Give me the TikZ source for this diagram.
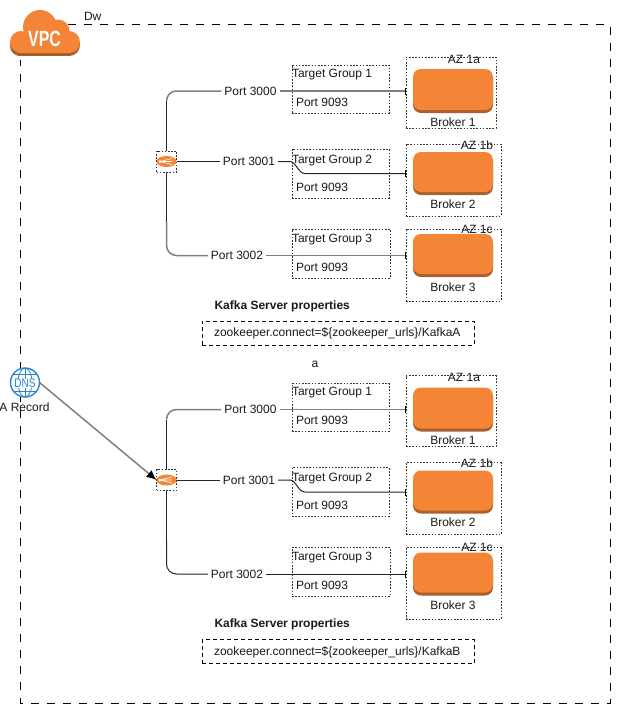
\documentclass[tikz,border=0pt]{standalone}
\usepackage{fontspec}
\setmainfont{Liberation Sans}
\usetikzlibrary{arrows.meta,calc}
\definecolor{awsorange}{HTML}{F58536}
\definecolor{awsdark}{HTML}{A8602E}
\definecolor{dnsblue}{HTML}{2A85D0}
\definecolor{txt}{HTML}{1A1A1A}
\tikzset{
  lbl/.style={font=\fontsize{12}{14}\selectfont,text=txt,inner sep=0pt,outer sep=0pt,text height=8.6pt,text depth=0pt},
  lleft/.style={lbl,anchor=west},
  portlbl/.style={lbl,fill=white,inner xsep=3pt,inner ysep=1pt},
  dotbox/.style={draw=black!80,dash pattern=on 1.6pt off 1.6pt,line width=.8pt,inner sep=0pt,outer sep=0pt},
  propbox/.style={draw=black,dash pattern=on 4pt off 3pt,line width=.8pt,inner sep=0pt,outer sep=0pt},
  outerbox/.style={draw=black,dash pattern=on 8pt off 8pt,line width=.9pt},
  wirelight/.style={draw=black!50,line width=1.5pt},
  wiredark/.style={draw=black!85,line width=1pt},
  endbar/.style={-{Bar[width=7pt,black,line width=.7pt]}},
}
% style, name, left, top, right, bottom
\newcommand{\cornerbox}[6]{\node[#1,minimum width={(#5-#3)*1pt},minimum height={(#6-#4)*1pt}] (#2) at ({(#3+#5)/2},{(#4+#6)/2}) {};}
% name, left, top, bottom
\newcommand{\brokershape}[4]{%
  \fill[awsdark,rounded corners=8pt] (#2,{#3+3}) rectangle (#2+80,#4);
  \node[fill=awsorange,rounded corners=8pt,inner sep=0pt,outer sep=0pt,minimum width=80pt,minimum height={(#4-#3-3)*1pt}] (#1) at (#2+40,{(#3+#4-3)/2}) {};
}
% suffix
\newcommand{\lbicon}[1]{%
  \node[dotbox,minimum width=20pt,minimum height=21pt] (lb#1) at (166.5,161.5) {};
  \fill[awsorange] (166.5,161.5) ellipse[x radius=10pt,y radius=5.5pt];
  \draw[white,line width=.6pt] (160,161.5) -- (172,158.5) (160,161.5) -- (172,161.5) (160,161.5) -- (172,164.5);
  \fill[white] (160,161.5) circle[radius=1.5pt];
}
% suffix, last word, style of the Port 3002 wire
\newcommand{\kafkablock}[3]{%
  \cornerbox{dotbox}{tga#1}{292}{65}{389}{113}
  \cornerbox{dotbox}{tgb#1}{292}{149}{389}{198}
  \cornerbox{dotbox}{tgc#1}{292}{229}{390}{278}
  \cornerbox{dotbox}{aza#1}{406}{57}{496}{128}
  \cornerbox{dotbox}{azb#1}{406}{144}{501}{216}
  \cornerbox{dotbox}{azc#1}{406}{229}{501}{301}
  \brokershape{bka#1}{413}{69}{113}
  \brokershape{bkb#1}{413}{152}{195}
  \brokershape{bkc#1}{413}{234}{277}
  \node[lbl] at (464,59) {AZ 1a};
  \node[lbl] at (477,145) {AZ 1b};
  \node[lbl] at (477,229) {AZ 1c};
  \node[lbl] at (453,122) {Broker 1};
  \node[lbl] at (453,204) {Broker 2};
  \node[lbl] at (453,287) {Broker 3};
  \node[lleft] at (292,73) {Target Group 1};
  \node[lleft] at (296,102) {Port 9093};
  \node[lleft] at (292,159) {Target Group 2};
  \node[lleft] at (296,187) {Port 9093};
  \node[lleft] at (292,238) {Target Group 3};
  \node[lleft] at (296,267) {Port 9093};
  \node[portlbl] (pa#1) at (250.5,91) {Port 3000};
  \node[portlbl] (pb#1) at (249,161.5) {Port 3001};
  \node[portlbl] (pc#1) at (237,255.5) {Port 3002};
  \coordinate (eb#1) at (406,173.5);
  \lbicon{#1}
  \draw[wirelight,rounded corners=10pt] (lb#1.north) ++(0,-50) |- (pa#1.west);
  \draw[wiredark] (lb#1.north) -- ++(0,-50);
  \draw[#3,rounded corners=10pt] (lb#1.south) ++(0,50) |- (pc#1.west);
  \draw[wiredark] (lb#1.south) -- ++(0,50);
  \draw[wiredark] (lb#1.east) -- (pb#1.west);
  \draw[wirelight,endbar] (pa#1.east) -- (aza#1.west |- pa#1);
  \draw[#3,endbar] (pc#1.east) -- (azc#1.west |- pc#1);
  \draw[wiredark,endbar] (pb#1.east) -- ++(12,0) .. controls +(6,0) and +(-7,0) .. ++(15,12) -- (eb#1);
  \node[lleft,font=\fontsize{12}{14}\selectfont\bfseries] at (214.5,305) {Kafka Server properties};
  \cornerbox{propbox}{prop#1}{202}{321}{474}{345}
  \node[lleft] at (214,332.5) {zookeeper.connect=\$\{zookeeper\_urls\}/#2};
}
\begin{document}
\begin{tikzpicture}[x=1pt,y=-1pt]
\useasboundingbox (0,0) rectangle (635,724);
\fill[white] (0,0) rectangle (635,724);
\draw[outerbox] (68,24.5) -| (610,703.5) -| (20.5,60);
% cloud
\begin{scope}[awsdark,yshift=-2pt]
  \fill (20,44) circle[radius=10pt];
  \fill (69,43) circle[radius=11pt];
  \fill (18,42) rectangle (70,54);
\end{scope}
\begin{scope}[awsorange]
  \fill (21,42) circle[radius=11pt];
  \fill (69,42) circle[radius=11pt];
  \fill (40,27) circle[radius=17pt];
  \fill (58,31) circle[radius=11.5pt];
  \fill (20,35) rectangle (70,53);
\end{scope}
\node[lbl,text=white,font=\fontsize{22}{24}\selectfont\bfseries,text height=15.8pt] (vpc) at (44.5,39) {\scalebox{.72}[1]{VPC}};
\node[lleft] (dw) at (84,16.5) {Dw};
% upper and lower blocks
\kafkablock{u}{KafkaA}{wirelight}
\node[lbl] (a) at (315,363.4) {a};
\begin{scope}[shift={(0,318.5)}]
\kafkablock{l}{KafkaB}{wiredark}
\end{scope}
% DNS
\node[circle,draw=dnsblue,line width=1.4pt,fill=white,minimum size=29pt,inner sep=0pt,outer sep=0pt] (dns) at (25,382.5) {};
\draw[dnsblue,line width=.8pt] (25,382.5) ellipse[x radius=7pt,y radius=14.5pt];
\draw[dnsblue,line width=.8pt] (25,368) -- (25,397);
\draw[dnsblue,line width=.8pt] (13,374) -- (37,374) (13,391) -- (37,391);
\node[lbl,text=dnsblue,fill=white,inner xsep=.5pt,font=\fontsize{12.5}{14}\selectfont,text height=9pt] at (25,383) {\scalebox{.8}[1]{DNS}};
\node[lbl] (arec) at (24.5,406.7) {A Record};
\draw[wirelight,-{Latex[black,length=10pt,width=9pt]}] (dns.east) -- (lbl.west);
\end{tikzpicture}
\end{document}
